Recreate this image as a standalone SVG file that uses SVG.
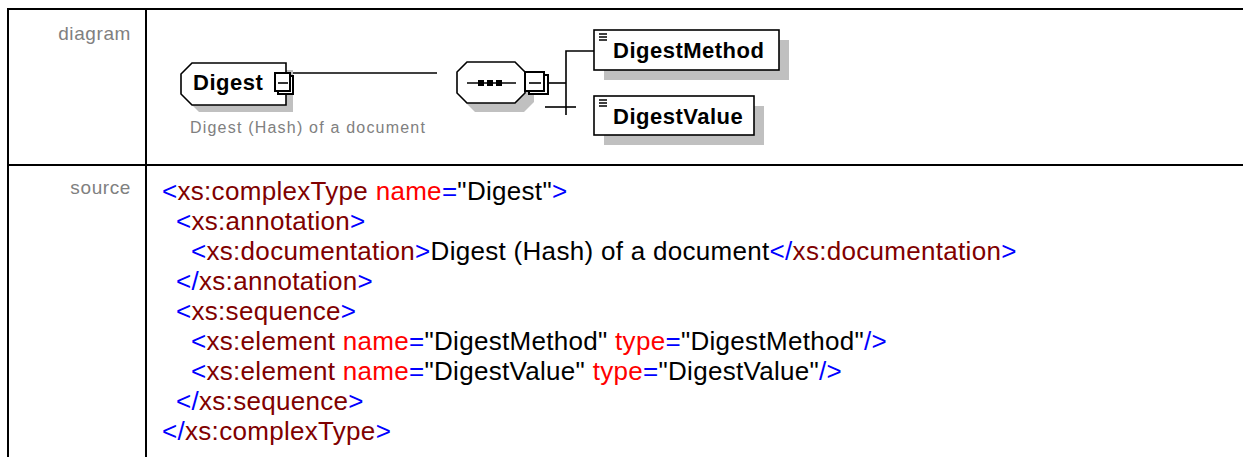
<svg xmlns="http://www.w3.org/2000/svg" width="1243" height="457" viewBox="0 0 1243 457">
<style>
.grid{stroke:#000;stroke-width:2;fill:none}
.lbl{font-family:"Liberation Sans",Arial,sans-serif;font-size:19px;fill:#808080;text-anchor:end;letter-spacing:0.6px}
.shadow{fill:#c0c0c0;stroke:none}
.shape{fill:#fff;stroke:#000;stroke-width:1.6}
.box{fill:#fff;stroke:#000;stroke-width:2}
.bold{font-family:"Liberation Sans",Arial,sans-serif;font-weight:bold;font-size:22px;fill:#000;letter-spacing:0.5px}
.desc{font-family:"Liberation Sans",Arial,sans-serif;font-size:16px;fill:#808080;letter-spacing:1.2px}
.wire{stroke:#000;stroke-width:1.6;fill:none}
.src{font-family:"Liberation Sans",Arial,sans-serif;font-size:26px;letter-spacing:0.3px;fill:#000}
.b{fill:#0000ff}.e{fill:#800000}.a{fill:#ff0000}.v{fill:#000}
</style>
<g id="table">
<line class="grid" x1="7" y1="9" x2="1243" y2="9"/>
<line class="grid" x1="7" y1="165" x2="1243" y2="165"/>
<line class="grid" x1="8" y1="8" x2="8" y2="457"/>
<line class="grid" x1="146" y1="8" x2="146" y2="457"/>
<text class="lbl" x="131" y="40">diagram</text>
<text class="lbl" x="131" y="194">source</text>
</g>
<g id="connectors">
<line class="wire" x1="293" y1="73" x2="437" y2="73"/>
<line class="wire" x1="548" y1="83" x2="566" y2="83"/>
<polyline class="wire" points="594,51 566,51 566,115"/>
<line class="wire" x1="545" y1="107" x2="576" y2="107"/>
</g>
<g id="node-digest">
<polygon class="shadow" points="199,70 293,70 293,112 199,112 188,101 188,81"/>
<polygon class="shape" points="192,63 286,63 286,105 192,105 181,94 181,74"/>
<text class="bold" x="193" y="90">Digest</text>
<rect class="box" x="278" y="76" width="15" height="18"/>
<rect class="box" x="275" y="73" width="15" height="18"/>
<line class="wire" x1="278" y1="83" x2="288" y2="83"/>
<text class="desc" x="190" y="133">Digest (Hash) of a document</text>
</g>
<g id="node-sequence">
<polygon class="shadow" points="475,70 524,70 534,80 534,102 524,112 475,112 465,102 465,80"/>
<polygon class="shape" points="467,62 515,62 525,72 525,93 515,103 467,103 457,93 457,72"/>
<line class="wire" x1="467" y1="83" x2="516" y2="83"/>
<rect x="478" y="80" width="6" height="6" fill="#000"/>
<rect x="487" y="80" width="6" height="6" fill="#000"/>
<rect x="496" y="80" width="6" height="6" fill="#000"/>
<rect class="box" x="529" y="75" width="19" height="19"/>
<rect class="box" x="525" y="72" width="19" height="19"/>
<line class="wire" x1="529" y1="83" x2="541" y2="83"/>
</g>
<g id="node-digestmethod">
<rect class="shadow" x="604" y="40" width="185" height="40"/>
<rect class="shape" x="594" y="30" width="185" height="40"/>
<path class="wire" d="M599 34h8M599 37h8M599 40h8" stroke-width="1.4"/>
<text class="bold" x="613" y="58">DigestMethod</text>
</g>
<g id="node-digestvalue">
<rect class="shadow" x="604" y="106" width="160" height="39"/>
<rect class="shape" x="594" y="96" width="160" height="39"/>
<path class="wire" d="M599 100h8M599 103h8M599 106h8" stroke-width="1.4"/>
<text class="bold" x="613" y="124">DigestValue</text>
</g>
<g id="source">
<text class="src" x="162" y="200"><tspan class="b">&lt;</tspan><tspan class="e">xs:complexType</tspan> <tspan class="a">name</tspan><tspan class="b">=</tspan><tspan class="v">"Digest"</tspan><tspan class="b">&gt;</tspan></text>
<text class="src" x="176" y="230"><tspan class="b">&lt;</tspan><tspan class="e">xs:annotation</tspan><tspan class="b">&gt;</tspan></text>
<text class="src" x="191" y="260"><tspan class="b">&lt;</tspan><tspan class="e">xs:documentation</tspan><tspan class="b">&gt;</tspan><tspan class="v">Digest (Hash) of a document</tspan><tspan class="b">&lt;/</tspan><tspan class="e">xs:documentation</tspan><tspan class="b">&gt;</tspan></text>
<text class="src" x="176" y="290"><tspan class="b">&lt;/</tspan><tspan class="e">xs:annotation</tspan><tspan class="b">&gt;</tspan></text>
<text class="src" x="176" y="320"><tspan class="b">&lt;</tspan><tspan class="e">xs:sequence</tspan><tspan class="b">&gt;</tspan></text>
<text class="src" x="191" y="350"><tspan class="b">&lt;</tspan><tspan class="e">xs:element</tspan> <tspan class="a">name</tspan><tspan class="b">=</tspan><tspan class="v">"DigestMethod"</tspan> <tspan class="a">type</tspan><tspan class="b">=</tspan><tspan class="v">"DigestMethod"</tspan><tspan class="b">/&gt;</tspan></text>
<text class="src" x="191" y="380"><tspan class="b">&lt;</tspan><tspan class="e">xs:element</tspan> <tspan class="a">name</tspan><tspan class="b">=</tspan><tspan class="v">"DigestValue"</tspan> <tspan class="a">type</tspan><tspan class="b">=</tspan><tspan class="v">"DigestValue"</tspan><tspan class="b">/&gt;</tspan></text>
<text class="src" x="176" y="410"><tspan class="b">&lt;/</tspan><tspan class="e">xs:sequence</tspan><tspan class="b">&gt;</tspan></text>
<text class="src" x="162" y="440"><tspan class="b">&lt;/</tspan><tspan class="e">xs:complexType</tspan><tspan class="b">&gt;</tspan></text>
</g>
</svg>
